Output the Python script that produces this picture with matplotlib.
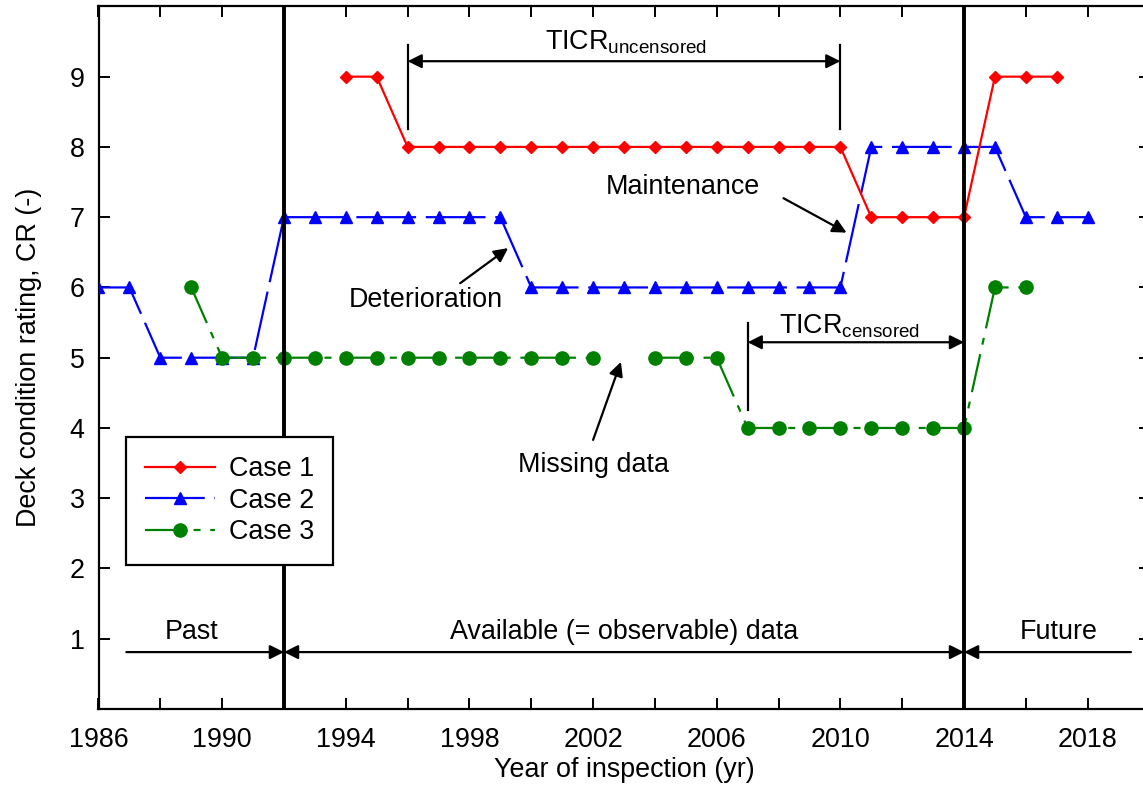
import numpy as np
import matplotlib
matplotlib.use("Agg")
import matplotlib.pyplot as plt
from matplotlib.ticker import MultipleLocator

plt.rcParams['font.family'] = ['Liberation Sans', 'DejaVu Sans']
plt.rcParams['mathtext.fontset'] = 'custom'
plt.rcParams['mathtext.rm'] = 'Liberation Sans'
plt.rcParams['lines.scale_dashes'] = False

# ---- data ----
years1 = [1994, 1995, 1996, 1997, 1998, 1999, 2000, 2001, 2002, 2003, 2004, 2005,
          2006, 2007, 2008, 2009, 2010, 2011, 2012, 2013, 2014, 2015, 2016, 2017]
case1 = [9, 9, 8, 8, 8, 8, 8, 8, 8, 8, 8, 8, 8, 8, 8, 8, 8, 7, 7, 7, 7, 9, 9, 9]

years2 = list(range(1986, 2019))
case2 = [6, 6, 5, 5, 5, 5, 7, 7, 7, 7, 7, 7, 7, 7, 6, 6, 6, 6, 6, 6, 6, 6, 6, 6, 6,
         8, 8, 8, 8, 8, 7, 7, 7]

years3 = list(range(1989, 2017))
case3 = [6, 5, 5, 5, 5, 5, 5, 5, 5, 5, 5, 5, 5, 5, np.nan, 5, 5, 5, 4, 4, 4, 4, 4,
         4, 4, 4, 6, 6]

xticks = [1986, 1990, 1994, 1998, 2002, 2006, 2010, 2014, 2018]
yticks = [1, 2, 3, 4, 5, 6, 7, 8, 9]

FS = 19.4

fig = plt.figure(figsize=(11.43, 7.88), dpi=100)
ax = fig.add_axes([98.5 / 1143, 79 / 788, 1051 / 1143, 702.6 / 788])

l2, = ax.plot(years2, case2, color='#0000ff', lw=1.6, marker='^', ms=9,
              linestyle=(0, (43, 7)), label='Case 2', zorder=3)
l1, = ax.plot(years1, case1, color='#ff0000', lw=1.6, marker='D', ms=6.5,
              linestyle='-', label='Case 1', zorder=4)
l3, = ax.plot(years3, case3, color='#008000', lw=1.6, marker='o', ms=9.5,
              linestyle=(0, (28, 7, 5, 7)), label='Case 3', zorder=5)

ax.set_xlim(1986, 2020)
ax.set_ylim(0, 10)
ax.set_xticks(xticks)
ax.xaxis.set_minor_locator(MultipleLocator(2))
ax.set_yticks(yticks)
ax.tick_params(axis='both', which='both', direction='in', top=True, right=True,
               length=8, width=1.4, labelsize=FS)
ax.tick_params(axis='x', pad=13)
ax.tick_params(axis='y', pad=10)
for s in ax.spines.values():
    s.set_linewidth(1.6)

ax.set_xlabel('Year of inspection (yr)', fontsize=FS, labelpad=3)
ax.set_ylabel('Deck condition rating, CR (-)', fontsize=FS, labelpad=20)

# thick vertical boundaries
for xv in (1992, 2014):
    ax.axvline(xv, color='black', lw=2.8, zorder=6)

arrow_kw = dict(color='black', lw=1.6, shrinkA=0, shrinkB=0, mutation_scale=21)

# Past / Available / Future
ax.annotate('', xy=(1992, 0.81), xytext=(1986.9, 0.81),
            arrowprops=dict(arrowstyle='-|>', **arrow_kw))
ax.annotate('', xy=(2014, 0.81), xytext=(1992, 0.81),
            arrowprops=dict(arrowstyle='<|-|>', **arrow_kw))
ax.annotate('', xy=(2014, 0.81), xytext=(2019.4, 0.81),
            arrowprops=dict(arrowstyle='-|>', **arrow_kw))
ax.text(1989.0, 1.10, 'Past', fontsize=FS, ha='center', va='center')
ax.text(2003.0, 1.10, 'Available (= observable) data', fontsize=FS, ha='center', va='center')
ax.text(2017.05, 1.10, 'Future', fontsize=FS, ha='center', va='center')

# TICR uncensored
ax.annotate('', xy=(2010, 9.22), xytext=(1996, 9.22),
            arrowprops=dict(arrowstyle='<|-|>', **arrow_kw))
ax.plot([1996, 1996], [8.25, 9.45], color='black', lw=1.6)
ax.plot([2010, 2010], [8.25, 9.45], color='black', lw=1.6)
ax.text(2003.05, 9.49, r'TICR$_{\mathrm{uncensored}}$', fontsize=FS, ha='center', va='center')

# TICR censored
ax.annotate('', xy=(2014, 5.22), xytext=(2007, 5.22),
            arrowprops=dict(arrowstyle='<|-|>', **arrow_kw))
ax.plot([2007, 2007], [4.25, 5.5], color='black', lw=1.6)
ax.text(2010.3, 5.45, r'TICR$_{\mathrm{censored}}$', fontsize=FS, ha='center', va='center')

# pointer annotations
ax.annotate('', xy=(2010.2, 6.78), xytext=(2008.16, 7.27),
            arrowprops=dict(arrowstyle='-|>', **arrow_kw))
ax.text(2004.9, 7.43, 'Maintenance', fontsize=FS, ha='center', va='center')
ax.annotate('', xy=(1999.25, 6.56), xytext=(1997.7, 6.06),
            arrowprops=dict(arrowstyle='-|>', **arrow_kw))
ax.text(1996.6, 5.82, 'Deterioration', fontsize=FS, ha='center', va='center')
ax.annotate('', xy=(2002.9, 4.94), xytext=(2002.0, 3.83),
            arrowprops=dict(arrowstyle='-|>', **arrow_kw))
ax.text(2002.0, 3.47, 'Missing data', fontsize=FS, ha='center', va='center')

leg = ax.legend(handles=[l1, l2, l3], loc='upper left', bbox_to_anchor=(0.026, 0.387),
                borderaxespad=0, fontsize=FS, handlelength=2.6, handletextpad=0.5,
                labelspacing=0.2, borderpad=0.72, fancybox=False, framealpha=1,
                edgecolor='black', numpoints=1)
leg.get_frame().set_linewidth(1.6)
leg.set_zorder(10)

fig.savefig('out.png', dpi=100)
